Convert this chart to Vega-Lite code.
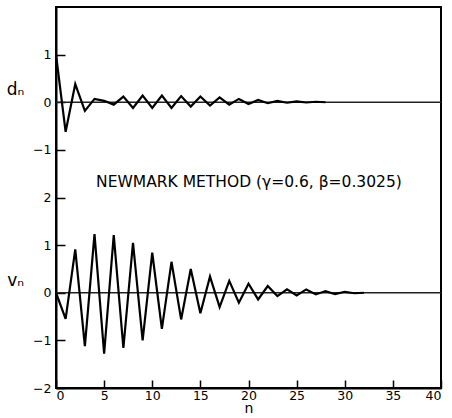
{
  "$schema": "https://vega.github.io/schema/vega-lite/v6.json",
  "width": 385,
  "height": 381,
  "autosize": {"type": "none"},
  "padding": {"left": 56, "top": 7, "right": 11, "bottom": 30},
  "config": {
    "view": {"stroke": "#000", "strokeWidth": 2},
    "font": "DejaVu Sans",
    "axis": {
      "grid": false,
      "domainColor": "#000",
      "domainWidth": 2,
      "labelColor": "#000",
      "labelFont": "DejaVu Sans",
      "labelFontSize": 12.5,
      "titleColor": "#000",
      "titleFont": "DejaVu Sans",
      "titleFontSize": 14,
      "titleFontWeight": "normal"
    }
  },
  "datasets": {
    "d": [
      {"n": 0, "d": 1}, {"n": 1, "d": -0.62}, {"n": 2, "d": 0.38}, {"n": 3, "d": -0.18},
      {"n": 4, "d": 0.07}, {"n": 5, "d": 0.03}, {"n": 6, "d": -0.05}, {"n": 7, "d": 0.12},
      {"n": 8, "d": -0.12}, {"n": 9, "d": 0.14}, {"n": 10, "d": -0.12}, {"n": 11, "d": 0.14},
      {"n": 12, "d": -0.12}, {"n": 13, "d": 0.13}, {"n": 14, "d": -0.09}, {"n": 15, "d": 0.12},
      {"n": 16, "d": -0.07}, {"n": 17, "d": 0.1}, {"n": 18, "d": -0.05}, {"n": 19, "d": 0.07},
      {"n": 20, "d": -0.035}, {"n": 21, "d": 0.05}, {"n": 22, "d": -0.02}, {"n": 23, "d": 0.03},
      {"n": 24, "d": -0.01}, {"n": 25, "d": 0.02}, {"n": 26, "d": -0.005}, {"n": 27, "d": 0.01},
      {"n": 28, "d": 0}
    ],
    "v": [
      {"n": 0, "v": 0}, {"n": 1, "v": -0.55}, {"n": 2, "v": 0.91}, {"n": 3, "v": -1.12},
      {"n": 4, "v": 1.23}, {"n": 5, "v": -1.28}, {"n": 6, "v": 1.21}, {"n": 7, "v": -1.16},
      {"n": 8, "v": 1.05}, {"n": 9, "v": -1.0}, {"n": 10, "v": 0.84}, {"n": 11, "v": -0.76},
      {"n": 12, "v": 0.65}, {"n": 13, "v": -0.56}, {"n": 14, "v": 0.5}, {"n": 15, "v": -0.43},
      {"n": 16, "v": 0.34}, {"n": 17, "v": -0.3}, {"n": 18, "v": 0.25}, {"n": 19, "v": -0.21},
      {"n": 20, "v": 0.19}, {"n": 21, "v": -0.14}, {"n": 22, "v": 0.14}, {"n": 23, "v": -0.07},
      {"n": 24, "v": 0.07}, {"n": 25, "v": -0.055}, {"n": 26, "v": 0.07}, {"n": 27, "v": -0.035},
      {"n": 28, "v": 0.035}, {"n": 29, "v": -0.03}, {"n": 30, "v": 0.02}, {"n": 31, "v": -0.01},
      {"n": 32, "v": 0}
    ]
  },
  "resolve": {"scale": {"y": "independent"}, "axis": {"y": "independent"}},
  "layer": [
    {
      "layer": [
        {
          "data": {"values": [{"base": 0}]},
          "mark": {"type": "rule", "stroke": "#222", "strokeWidth": 1.6},
          "encoding": {"y": {"field": "base", "type": "quantitative"}}
        },
        {
          "data": {"name": "v"},
          "mark": {"type": "line", "stroke": "#000", "strokeWidth": 2.2, "strokeJoin": "miter"},
          "encoding": {
            "x": {"field": "n", "type": "quantitative", "scale": {"domain": [0, 40], "nice": false},
              "axis": {"values": [0, 5, 10, 15, 20, 25, 30, 35, 40], "title": "n", "ticks": true, "tickColor": "#000", "tickWidth": 1.5, "tickSize": -8, "labelPadding": 9, "titlePadding": 0}},
            "y": {"field": "v", "type": "quantitative", "scale": {"domain": [-2, 6], "nice": false, "zero": false},
              "axis": {"orient": "left", "values": [-2, -1, 0, 1, 2], "title": null, "ticks": true, "tickColor": "#000", "tickWidth": 1.5, "tickSize": -9, "labelPadding": 14}}
          }
        },
        {
          "data": {"values": [{"n": 20.05, "v": 2.32, "label": "NEWMARK METHOD (γ=0.6, β=0.3025)"}]},
          "mark": {"type": "text", "fontSize": 15.5, "font": "DejaVu Sans", "baseline": "middle", "align": "center", "clip": false},
          "encoding": {
            "x": {"field": "n", "type": "quantitative"},
            "y": {"field": "v", "type": "quantitative"},
            "text": {"field": "label"}
          }
        },
        {
          "data": {"values": [{"n": -4.2, "v": 0.25, "label": "vₙ"}]},
          "mark": {"type": "text", "fontSize": 17, "font": "DejaVu Sans", "baseline": "middle", "align": "center", "clip": false},
          "encoding": {
            "x": {"field": "n", "type": "quantitative"},
            "y": {"field": "v", "type": "quantitative"},
            "text": {"field": "label"}
          }
        }
      ]
    },
    {
      "layer": [
        {
          "data": {"values": [{"base": 0}]},
          "mark": {"type": "rule", "stroke": "#222", "strokeWidth": 1.6},
          "encoding": {"y": {"field": "base", "type": "quantitative"}}
        },
        {
          "data": {"name": "d"},
          "mark": {"type": "line", "stroke": "#000", "strokeWidth": 2.2, "strokeJoin": "miter"},
          "encoding": {
            "x": {"field": "n", "type": "quantitative"},
            "y": {"field": "d", "type": "quantitative", "scale": {"domain": [-6, 2], "nice": false, "zero": false},
              "axis": {"orient": "left", "values": [-1, 0, 1], "title": null, "ticks": true, "tickColor": "#000", "tickWidth": 1.5, "tickSize": -9, "labelPadding": 14, "domain": false}}
          }
        },
        {
          "data": {"values": [{"n": -4.2, "d": 0.25, "label": "dₙ"}]},
          "mark": {"type": "text", "fontSize": 17, "font": "DejaVu Sans", "baseline": "middle", "align": "center", "clip": false},
          "encoding": {
            "x": {"field": "n", "type": "quantitative"},
            "y": {"field": "d", "type": "quantitative"},
            "text": {"field": "label"}
          }
        }
      ]
    }
  ]
}
